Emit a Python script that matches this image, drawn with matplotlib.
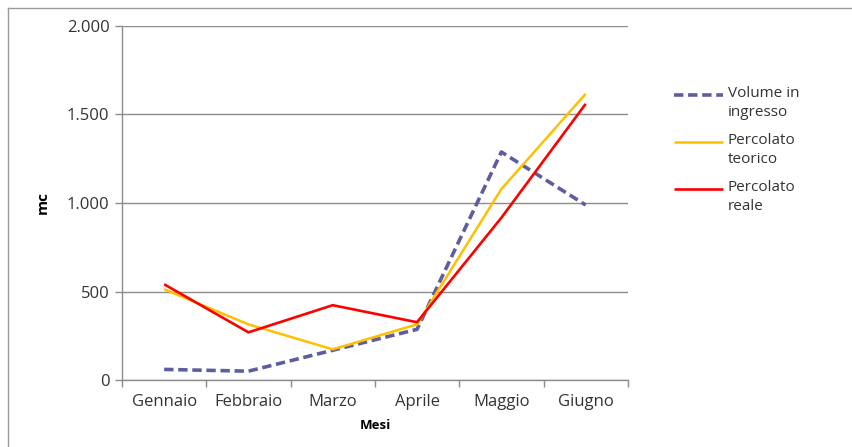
import matplotlib
matplotlib.use("Agg")
import matplotlib.pyplot as plt
from matplotlib.lines import Line2D
from matplotlib.ticker import FuncFormatter, FixedLocator

months = ["Gennaio", "Febbraio", "Marzo", "Aprile", "Maggio", "Giugno"]
volume_ingresso = [62, 52, 170, 288, 1288, 989]
percolato_teorico = [514, 316, 175, 316, 1079, 1616]
percolato_reale = [542, 271, 424, 328, 917, 1559]

series_labels = ["Volume in\ningresso", "Percolato\nteorico", "Percolato\nreale"]
series_colors = ["#5E5E9E", "#FFC000", "#FF0000"]
series_styles = [(0, (2.6, 1.3)), "-", "-"]
series_widths = [2.6, 1.8, 1.9]

plt.rcParams["font.family"] = ["Open Sans", "DejaVu Sans"]
text_color = "#333333"
grid_color = "#8C8C8C"

fig = plt.figure(figsize=(8.53, 4.47), dpi=100)
ax = fig.add_axes([0.143, 0.149, 0.593, 0.7935])

x = list(range(len(months)))
for vals, lab, col, ls, lw in zip(
    [volume_ingresso, percolato_teorico, percolato_reale],
    series_labels, series_colors, series_styles, series_widths):
    ax.plot(x, vals, color=col, linestyle=ls, linewidth=lw, label=lab,
            solid_capstyle="butt", dash_capstyle="butt", zorder=3)

ax.set_xlim(-0.5, len(months) - 0.5)
ax.set_ylim(0, 2000)
ax.set_yticks([0, 500, 1000, 1500, 2000])
ax.yaxis.set_major_formatter(FuncFormatter(lambda v, p: f"{int(v):,}".replace(",", ".")))
ax.grid(axis="y", color=grid_color, linewidth=1.0, zorder=1)

ax.set_xticks(x)
ax.set_xticklabels(months)
ax.xaxis.set_minor_locator(FixedLocator([i - 0.5 for i in range(len(months) + 1)]))
ax.tick_params(axis="x", which="major", length=0, pad=10, labelsize=12, labelcolor=text_color)
ax.tick_params(axis="x", which="minor", length=5, color=grid_color, width=1.0)
ax.tick_params(axis="y", length=5, color=grid_color, width=1.0, pad=4,
               labelsize=12, labelcolor=text_color)

for side in ("top", "right"):
    ax.spines[side].set_visible(False)
for side in ("left", "bottom"):
    ax.spines[side].set_color(grid_color)
    ax.spines[side].set_linewidth(1.0)

ax.set_ylabel("mc", fontsize=11, fontweight="bold", color="#000000", labelpad=12)
ax.set_xlabel("Mesi", fontsize=9.5, fontweight="bold", color="#000000", labelpad=6)

# legend drawn as a column of handles with two-line labels
def fx(px):
    return px / 853.0

def fy(py):
    return 1 - py / 447.0

legend_rows = [95, 142, 189]
for row, lab, col, ls, lw in zip(legend_rows, series_labels, series_colors,
                                  series_styles, series_widths):
    fig.add_artist(Line2D([fx(674), fx(723)], [fy(row), fy(row)], color=col,
                          linestyle=ls, linewidth=lw, solid_capstyle="butt",
                          dash_capstyle="butt", transform=fig.transFigure))
    fig.text(fx(728), fy(row - 9), lab, ha="left", va="top", fontsize=11,
             color=text_color, linespacing=1.4)

# chart frame
frame_col = "#9A9A9A"
fig.add_artist(Line2D([fx(8), fx(8)], [fy(8), 0], color=frame_col, linewidth=1.0,
                      transform=fig.transFigure))
fig.add_artist(Line2D([fx(8), 1], [fy(8), fy(8)], color=frame_col, linewidth=1.0,
                      transform=fig.transFigure))

fig.savefig("out.png", dpi=100)
